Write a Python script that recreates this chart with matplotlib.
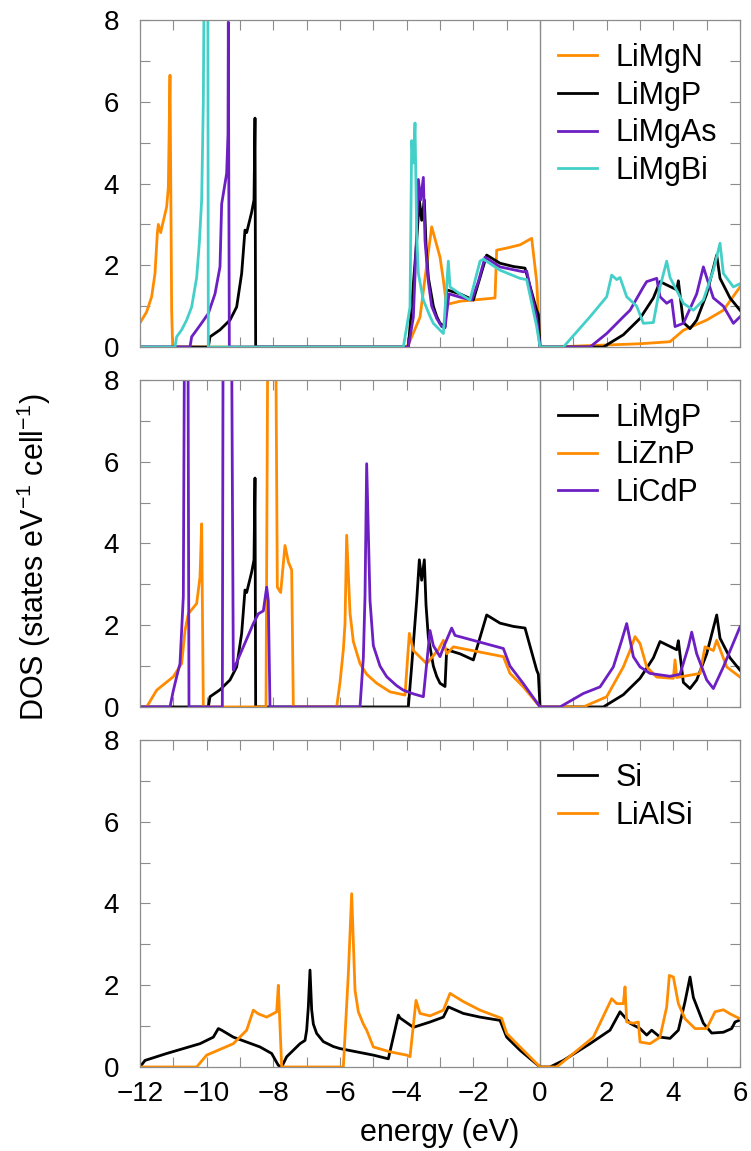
import numpy as np
import matplotlib
matplotlib.use("Agg")
import matplotlib.pyplot as plt

plt.rcParams['font.family'] = ['Liberation Sans', 'DejaVu Sans']
plt.rcParams['mathtext.default'] = 'regular'

orange = "#ff8c00"
purple = "#6c1fc2"
cyan = "#44d0c8"
grey = "#8c8c8c"

# panel 1 : LiMg(N,P,As,Bi)
limgn_e = [-12.0, -11.8, -11.65, -11.55, -11.48, -11.45, -11.38, -11.2, -11.15, -11.1, -11.05, -11.02,
           -4.0, -3.9, -3.6, -3.4, -3.25, -3.0, -2.9, -2.8, -2.75, -2.4, -2.0, -1.6, -1.35,
           -1.3, -1.0, -0.6, -0.25, -0.1, 0.0,
           0.5, 1.0, 2.0, 3.0, 3.9, 4.3, 5.0, 5.5, 6.0]
limgn_d = [0.59, 0.86, 1.23, 1.8, 2.78, 3.0, 2.8, 3.43, 3.9, 6.65, 0.9, 0.0,
           0.0, 0.15, 0.73, 2.0, 2.94, 2.2, 1.64, 1.0, 1.05, 1.12, 1.15, 1.18, 1.2,
           2.37, 2.42, 2.5, 2.66, 1.6, 0.0,
           0.0, 0.02, 0.05, 0.08, 0.13, 0.41, 0.66, 0.9, 1.47]

limgp_e = [-12.0, -9.95, -9.9, -9.6, -9.3, -9.1, -8.95, -8.85, -8.8, -8.65, -8.58, -8.55, -8.53,
           -3.95, -3.85, -3.7, -3.62, -3.55, -3.47, -3.42, -3.35, -3.2, -3.1, -3.0, -2.85,
           -2.8, -2.4, -2.0, -1.8, -1.6, -1.2, -0.8, -0.45, -0.1, -0.05, 0.0,
           1.9, 2.5, 3.0, 3.4, 3.6, 3.8, 4.1, 4.15, 4.3, 4.5, 4.7, 5.0, 5.3, 5.4, 5.7, 6.0]
limgp_d = [0.0, 0.0, 0.25, 0.42, 0.66, 0.98, 1.8, 2.86, 2.8, 3.3, 3.6, 5.6, 0.0,
           0.0, 1.0, 2.6, 3.6, 3.1, 3.6, 2.5, 1.7, 1.0, 0.75, 0.58, 0.5,
           1.4, 1.3, 1.15, 1.7, 2.25, 2.05, 1.97, 1.93, 0.9, 0.8, 0.0,
           0.0, 0.3, 0.7, 1.2, 1.6, 1.52, 1.4, 1.62, 0.6, 0.45, 0.66, 1.3, 2.25, 1.68, 1.2, 0.9]

limgas_e = [-12.0, -10.5, -10.45, -10.2, -9.95, -9.75, -9.6, -9.55, -9.4, -9.36, -9.35, -9.32,
            -3.95, -3.8, -3.7, -3.65, -3.58, -3.5, -3.45, -3.35, -3.25, -3.1, -2.95, -2.85,
            -2.73, -2.4, -2.05, -1.85, -1.65, -1.2, -0.5, -0.4, -0.1, 0.0,
            1.5, 2.0, 2.5, 2.7, 3.1, 3.2, 3.5, 3.6, 3.8, 3.95, 4.05, 4.3, 4.7, 4.9, 5.0,
            5.2, 5.5, 5.8, 6.0]
limgas_d = [0.0, 0.0, 0.25, 0.53, 0.82, 1.3, 1.96, 3.5, 4.25, 5.2, 7.95, 0.0,
            0.0, 0.73, 2.8, 4.1, 3.6, 4.15, 2.6, 1.6, 1.0, 0.7, 0.5, 0.47,
            1.3, 1.22, 1.15, 1.6, 2.2, 1.96, 1.84, 1.86, 0.7, 0.0,
            0.0, 0.33, 0.74, 0.9, 1.47, 1.6, 1.68, 1.23, 1.07, 1.15, 0.5, 0.58, 1.3, 1.96, 1.7,
            1.2, 1.0, 0.58, 0.74]

limgbi_e = [-12.0, -10.95, -10.9, -10.75, -10.6, -10.45, -10.3, -10.22, -10.15, -10.1, -10.05,
            -9.97, -9.95,
            -4.1, -3.9, -3.85, -3.8, -3.75, -3.7, -3.65, -3.5, -3.3, -3.2, -2.9, -2.75, -2.7,
            -2.4, -2.1, -1.8, -1.7, -1.2, -0.6, -0.4, -0.1, 0.0,
            0.7, 1.5, 2.0, 2.15, 2.3, 2.4, 2.6, 2.9, 3.1, 3.4, 3.6, 3.8, 3.9, 4.3, 4.6,
            4.9, 5.2, 5.4, 5.5, 5.8, 6.0]
limgbi_d = [0.0, 0.0, 0.25, 0.42, 0.66, 0.98, 1.7, 2.54, 3.6, 6.0, 12.0,
            12.0, 0.0,
            0.0, 0.98, 5.05, 4.5, 5.48, 2.8, 1.8, 1.15, 0.75, 0.58, 0.33, 2.1, 1.47,
            1.3, 1.15, 2.1, 2.15, 1.88, 1.68, 1.65, 0.5, 0.0,
            0.0, 0.74, 1.23, 1.76, 1.65, 1.7, 1.23, 1.0, 0.58, 0.6, 1.47, 2.1, 1.7, 1.07, 0.9,
            1.15, 1.88, 2.54, 1.8, 1.47, 1.55]

# panel 2 : LiZnP, LiCdP
liznp_e = [-12.0, -11.8, -11.5, -11.0, -10.75, -10.65, -10.55, -10.3, -10.2, -10.15, -10.1,
           -8.22, -8.15, -7.95, -7.88, -7.78, -7.65, -7.55, -7.45, -7.4,
           -6.1, -6.0, -5.9, -5.85, -5.8, -5.7, -5.6, -5.4, -5.2, -4.9, -4.5, -4.05, -3.92,
           -3.8, -3.4, -3.05, -2.9, -2.8, -2.6, -1.1, -0.9, -0.5, 0.0,
           1.3, 2.0, 2.5, 2.7, 2.85, 3.0, 3.2, 3.5, 4.0, 4.05, 4.1, 4.8, 4.95, 5.2, 5.3,
           5.6, 6.0]
liznp_d = [0.0, 0.0, 0.41, 0.74, 1.06, 1.87, 2.28, 2.53, 3.18, 4.48, 0.0,
           0.0, 12.0, 12.0, 2.93, 2.8, 3.95, 3.55, 3.35, 0.0,
           0.0, 0.6, 1.4, 2.04, 4.2, 2.3, 1.6, 1.06, 0.8, 0.58, 0.37, 0.29, 1.8,
           1.38, 1.06, 1.4, 1.63, 1.3, 1.47, 1.23, 0.82, 0.49, 0.0,
           0.0, 0.25, 0.98, 1.38, 1.72, 1.55, 0.98, 0.73, 0.7, 1.15, 0.72, 0.82, 1.47, 1.38, 1.63,
           0.98, 0.73]

licdp_e = [-12.0, -11.1, -11.0, -10.9, -10.8, -10.7, -10.65, -10.57, -10.53,
           -9.53, -9.5, -9.27, -9.2, -8.9, -8.6, -8.45, -8.3, -8.2, -8.15, -8.1,
           -5.4, -5.3, -5.25, -5.2, -5.1, -5.0, -4.8, -4.6, -4.3, -4.1, -3.8, -3.5, -3.3,
           -3.2, -3.0, -2.9, -2.65, -2.55, -1.1, -0.9, -0.5, 0.0,
           0.6, 1.3, 1.8, 2.2, 2.45, 2.6, 2.8, 3.0, 3.3, 3.9, 4.2, 4.45, 4.55, 4.7, 5.0,
           5.2, 5.5, 6.0]
licdp_d = [0.0, 0.0, 0.4, 0.74, 1.06, 2.7, 12.0, 12.0, 0.0,
           0.0, 12.0, 12.0, 0.9, 1.47, 2.04, 2.28, 2.35, 2.93, 2.6, 0.0,
           0.0, 1.2, 2.7, 5.95, 2.6, 1.5, 1.0, 0.74, 0.52, 0.41, 0.32, 0.25, 1.87,
           1.5, 1.23, 1.45, 1.93, 1.75, 1.43, 1.0, 0.57, 0.0,
           0.0, 0.33, 0.49, 0.98, 1.63, 2.04, 1.23, 0.98, 0.82, 0.75, 0.8, 1.47, 1.83, 1.3, 0.66,
           0.45, 0.98, 1.96]

# panel 3 : Si, LiAlSi
si_e = [-12.0, -11.85, -11.2, -10.2, -9.8, -9.65, -9.55, -9.2, -8.4, -8.05, -7.85, -7.75,
        -7.6, -7.2, -7.05, -7.0, -6.95, -6.9, -6.85, -6.8, -6.7, -6.5, -6.2, -6.0, -5.0,
        -4.55, -4.25, -4.2, -3.8, -3.3, -2.9, -2.75, -2.3, -1.8, -1.2, -1.0, -0.6, 0.0,
        0.3, 0.7, 1.5, 2.1, 2.4, 2.7, 3.0, 3.2, 3.35, 3.6, 3.9, 4.15, 4.35, 4.5, 4.6,
        4.9, 5.15, 5.5, 5.75, 5.85, 6.0]
si_d = [0.0, 0.16, 0.33, 0.57, 0.73, 0.94, 0.9, 0.73, 0.49, 0.33, 0.04, 0.0,
        0.25, 0.57, 0.65, 0.9, 1.47, 2.37, 1.4, 1.05, 0.82, 0.62, 0.5, 0.45, 0.29,
        0.2, 1.27, 1.2, 0.97, 1.1, 1.22, 1.47, 1.31, 1.22, 1.14, 0.73, 0.41, 0.0,
        0.0, 0.16, 0.57, 0.9, 1.35, 1.07, 0.94, 0.78, 0.9, 0.73, 0.7, 0.9, 1.6, 2.2, 1.7,
        1.07, 0.83, 0.85, 0.94, 1.1, 1.15]

lialsi_e = [-12.0, -10.3, -10.0, -9.2, -8.8, -8.6, -8.45, -8.2, -7.9, -7.85, -7.75,
            -5.9, -5.75, -5.65, -5.55, -5.45, -5.3, -5.2, -5.0, -4.5, -4.0, -3.9, -3.72,
            -3.6, -3.3, -2.9, -2.7, -2.3, -1.8, -1.15, -1.0, -0.6, 0.0,
            0.5, 1.0, 1.6, 2.15, 2.3, 2.5, 2.55, 2.6, 2.8, 2.95, 3.0, 3.3, 3.6, 3.8, 3.88,
            4.0, 4.15, 4.35, 4.45, 4.65, 5.0, 5.25, 5.5, 5.7, 6.0]
lialsi_d = [0.0, 0.0, 0.29, 0.57, 0.9, 1.39, 1.3, 1.22, 1.35, 2.0, 0.0,
            0.0, 2.28, 4.24, 1.88, 1.35, 1.05, 0.9, 0.49, 0.37, 0.29, 0.25, 1.63,
            1.31, 1.25, 1.39, 1.8, 1.6, 1.39, 1.19, 0.82, 0.49, 0.0,
            0.0, 0.33, 0.73, 1.67, 1.55, 1.55, 1.96, 1.1, 1.07, 1.1, 0.61, 0.57, 0.73, 1.47, 2.24,
            2.2, 1.55, 1.18, 1.1, 0.94, 0.94, 1.35, 1.4, 1.3, 1.18]

panels = [
    [("LiMgN", limgn_e, limgn_d, orange), ("LiMgP", limgp_e, limgp_d, "black"),
     ("LiMgAs", limgas_e, limgas_d, purple), ("LiMgBi", limgbi_e, limgbi_d, cyan)],
    [("LiMgP", limgp_e, limgp_d, "black"), ("LiZnP", liznp_e, liznp_d, orange),
     ("LiCdP", licdp_e, licdp_d, purple)],
    [("Si", si_e, si_d, "black"), ("LiAlSi", lialsi_e, lialsi_d, orange)],
]

fig = plt.figure(figsize=(7.51, 11.51), dpi=100)
left, width, height = 0.1864, 0.799, 0.2841
bottoms = [0.6985, 0.3858, 0.0730]

for i, curves in enumerate(panels):
    ax = fig.add_axes([left, bottoms[i], width, height])
    ax.axvline(0, color=grey, lw=1.0, zorder=1)
    for name, e, d, c in curves:
        ax.plot(e, d, color=c, lw=2.0, label=name, zorder=2)
    ax.set_xlim(-12, 6)
    ax.set_ylim(0, 8)
    ax.set_xticks(np.arange(-12, 7, 2))
    ax.set_xticks(np.arange(-12, 7, 1), minor=True)
    ax.set_yticks(np.arange(0, 9, 2))
    ax.set_yticks(np.arange(0, 9, 1), minor=True)
    ax.tick_params(which='both', direction='in', top=True, right=True, length=7,
                   width=0.8, color=grey, labelsize=20)
    ax.tick_params(axis='y', pad=15)
    ax.tick_params(axis='x', pad=10)
    for s in ax.spines.values():
        s.set_color(grey)
        s.set_linewidth(0.9)
    if i < 2:
        ax.tick_params(labelbottom=False)
    else:
        ax.set_xlabel("energy (eV)", fontsize=22, labelpad=8)
    ax.legend(loc='upper left', bbox_to_anchor=(0.697, 0.93), frameon=False, fontsize=22,
              handlelength=1.27, handletextpad=0.6, labelspacing=0.25, borderaxespad=0,
              borderpad=0)

fig.text(0.045, 1 - 557 / 1151, "DOS (states eV$^{-1}$ cell$^{-1}$)", rotation=90,
         fontsize=22, ha='center', va='center')

plt.savefig("out.png", dpi=100)
